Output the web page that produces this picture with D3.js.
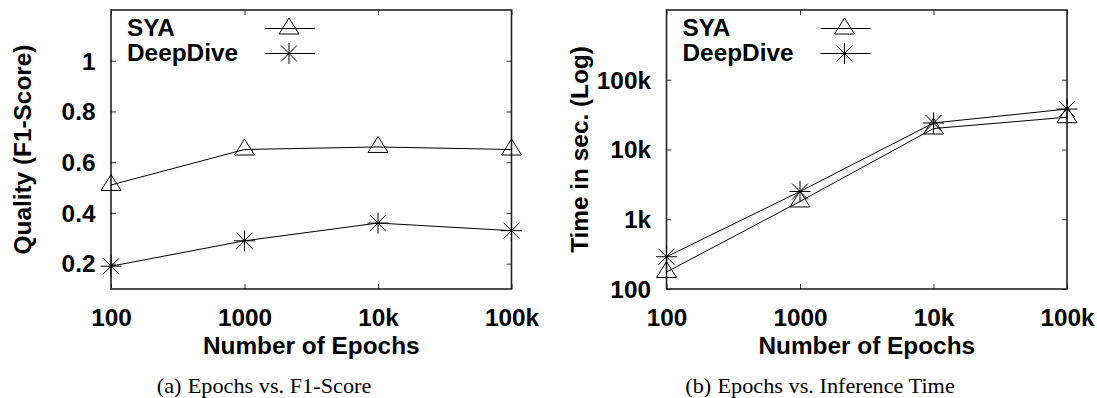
<!DOCTYPE html>
<html>
<head>
<meta charset="utf-8">
<script src="https://cdn.jsdelivr.net/npm/d3@7"></script>
<style>
  html, body { margin: 0; padding: 0; background: #fff; }
  svg { display: block; }
  .sans { font-family: "Liberation Sans", Arial, Helvetica, sans-serif; font-weight: bold; fill: #000; }
  .serif { font-family: "Liberation Serif", "Times New Roman", serif; fill: #000; }
</style>
</head>
<body>
<svg id="chart" width="1097" height="398"></svg>
<script>
// Epochs on the shared x axis
const epochs = [100, 1000, 10000, 100000];
const epochTickLabels = ["100", "1000", "10k", "100k"];

// Series names
const seriesNames = ["SYA", "DeepDive"];

// (a) F1-score per epoch count
const qualitySYA = [0.51, 0.65, 0.66, 0.65];
const qualityDeepDive = [0.19, 0.29, 0.36, 0.33];
const qualityTicks = [0.2, 0.4, 0.6, 0.8, 1];
const qualityTickLabels = ["0.2", "0.4", "0.6", "0.8", "1"];

// (b) inference time in seconds per epoch count
const timeSYA = [175, 1800, 20000, 29000];
const timeDeepDive = [290, 2500, 24000, 38000];
const timeTicks = [100, 1000, 10000, 100000];
const timeTickLabels = ["100", "1k", "10k", "100k"];

// Captions and axis titles
const xTitle = "Number of Epochs";
const yTitles = ["Quality (F1-Score)", "Time in sec. (Log)"];
const captions = [["(a)", "Epochs vs. F1-Score"], ["(b)", "Epochs vs. Inference Time"]];

const svg = d3.select("#chart");
const TEXT_STRETCH = 1.06;  // glyphs are drawn a bit wider than the base face
const FONT = 23;

// Marker shapes
function trianglePath(x, y) {
  return `M${x},${y - 10.5}L${x + 10},${y + 5.5}L${x - 10},${y + 5.5}Z`;
}
function starPath(x, y) {
  const s = 10.5, d = 8;
  return `M${x - s},${y}L${x + s},${y}M${x},${y - s}L${x},${y + s}` +
         `M${x - d},${y - d}L${x + d},${y + d}M${x - d},${y + d}L${x + d},${y - d}`;
}
const markers = [trianglePath, starPath];

function stretchedText(g, x, y, txt, anchor, size, cls, rotate) {
  return g.append("text")
    .attr("class", cls)
    .attr("text-anchor", anchor)
    .attr("font-size", size)
    .attr("transform", `translate(${x},${y})` + (rotate ? ` rotate(${rotate})` : "") + ` scale(${TEXT_STRETCH},1)`)
    .text(txt);
}

function panel(opts) {
  const { x0, x1, y0, y1, yScaleType, yDomain, yTicks, yTickLabels, series, yTitle, yTitleX, caption, captionX } = opts;
  const g = svg.append("g");

  const x = d3.scaleLog().domain([100, 100000]).range([x0, x1]);
  const y = (yScaleType === "log" ? d3.scaleLog() : d3.scaleLinear()).domain(yDomain).range([y1, y0]);

  const tickLen = 5;
  const tickColor = "#333";

  // bottom axis with inward ticks and labels
  const bottom = g.append("g").attr("transform", `translate(0,${y1})`)
    .call(d3.axisBottom(x).tickValues(epochs).tickSizeInner(-tickLen).tickSizeOuter(0)
      .tickFormat((d, i) => epochTickLabels[i]));
  // top mirror ticks
  const top = g.append("g").attr("transform", `translate(0,${y0})`)
    .call(d3.axisTop(x).tickValues(epochs).tickSizeInner(-tickLen).tickSizeOuter(0).tickFormat(""));
  // left axis
  const left = g.append("g").attr("transform", `translate(${x0},0)`)
    .call(d3.axisLeft(y).tickValues(yTicks).tickSizeInner(-tickLen).tickSizeOuter(0)
      .tickFormat((d, i) => yTickLabels[i]));
  // right mirror ticks
  const right = g.append("g").attr("transform", `translate(${x1},0)`)
    .call(d3.axisRight(y).tickValues(yTicks).tickSizeInner(-tickLen).tickSizeOuter(0).tickFormat(""));

  [bottom, top, left, right].forEach(a => {
    a.select(".domain").remove();
    a.selectAll(".tick line").attr("stroke", tickColor).attr("stroke-width", 1);
  });

  bottom.selectAll(".tick text")
    .attr("class", "sans").attr("font-size", FONT).attr("font-family", null)
    .attr("y", 37).attr("dy", null)
    .attr("transform", `scale(${TEXT_STRETCH},1)`);
  left.selectAll(".tick text")
    .attr("class", "sans").attr("font-size", FONT).attr("font-family", null)
    .attr("x", -15.5 / TEXT_STRETCH).attr("dy", "0.36em")
    .attr("transform", `scale(${TEXT_STRETCH},1)`);

  // frame
  g.append("rect")
    .attr("x", x0).attr("y", y0).attr("width", x1 - x0).attr("height", y1 - y0)
    .attr("fill", "none").attr("stroke", "#222").attr("stroke-width", 1.6);

  // data lines and markers
  const line = d3.line().x(d => x(d[0])).y(d => y(d[1]));
  series.forEach((vals, si) => {
    const pts = epochs.map((e, i) => [e, vals[i]]);
    g.append("path").datum(pts).attr("d", line)
      .attr("fill", "none").attr("stroke", "#000").attr("stroke-width", 1);
    g.selectAll(null).data(pts).enter().append("path")
      .attr("d", d => markers[si](x(d[0]), y(d[1])))
      .attr("fill", "none").attr("stroke", "#000").attr("stroke-width", 1);
  });

  // legend
  const legendRows = [28.5, 53.5];
  seriesNames.forEach((name, si) => {
    const ly = legendRows[si];
    stretchedText(g, x0 + 16, ly + 7.8, name, "start", FONT, "sans");
    g.append("line").attr("x1", x0 + 154).attr("x2", x0 + 204).attr("y1", ly).attr("y2", ly)
      .attr("stroke", "#000").attr("stroke-width", 1);
    g.append("path").attr("d", markers[si](x0 + 178, ly))
      .attr("fill", "none").attr("stroke", "#000").attr("stroke-width", 1);
  });

  // axis titles
  stretchedText(g, (x0 + x1) / 2, 354, xTitle, "middle", FONT, "sans");
  stretchedText(g, yTitleX, (y0 + y1) / 2, yTitle, "middle", FONT, "sans", -90);

  // caption
  const c = g.append("text").attr("class", "serif").attr("font-size", 21)
    .attr("text-anchor", "middle")
    .attr("transform", `translate(${captionX},393) scale(${TEXT_STRETCH},1)`);
  c.append("tspan").text(caption[0]);
  c.append("tspan").attr("dx", 6).text(caption[1]);
}

panel({
  x0: 111, x1: 511.5, y0: 10, y1: 289,
  yScaleType: "linear", yDomain: [0.1, 1.2],
  yTicks: qualityTicks, yTickLabels: qualityTickLabels,
  series: [qualitySYA, qualityDeepDive],
  yTitle: yTitles[0], yTitleX: 31,
  caption: captions[0], captionX: 264
});

panel({
  x0: 666.5, x1: 1067, y0: 10, y1: 289,
  yScaleType: "log", yDomain: [100, 1000000],
  yTicks: timeTicks, yTickLabels: timeTickLabels,
  series: [timeSYA, timeDeepDive],
  yTitle: yTitles[1], yTitleX: 588,
  caption: captions[1], captionX: 820
});
</script>
</body>
</html>
